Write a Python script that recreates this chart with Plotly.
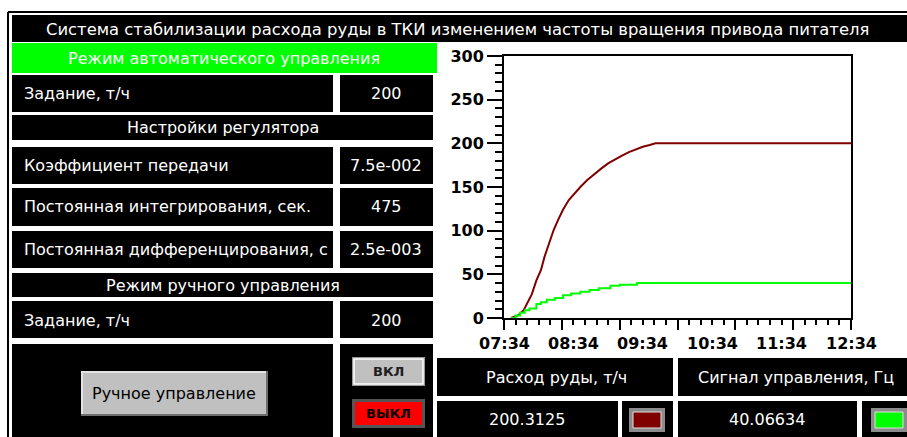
import plotly.graph_objects as go

W, H = 907, 437
FONT = 'DejaVu Sans'
RED = '#800000'
GREEN = '#00ff00'

# trend, minutes after 07:34
ore_t = [6, 12, 17, 21, 24, 28, 32, 35, 38, 40, 43, 47, 51, 56, 61, 66, 72, 78,
         84, 90, 96, 102, 108, 114, 120, 126, 131, 300]
ore_v = [0, 3, 9, 20, 27, 43, 55, 70, 82, 90, 101, 113, 124, 135, 143, 150, 158, 165,
         171, 177, 182, 186, 190, 193, 196, 198, 200, 200]
sig_t = [6, 10, 14, 18, 22, 28, 32, 37, 44, 51, 58, 66, 74, 82, 92, 100, 115, 300]
sig_v = [0, 3, 6, 9, 11, 16, 18, 21, 23, 26, 28, 30, 32, 34, 37, 38, 40, 40]

time_pos = [0, 60, 120, 180, 240, 300]
time_labels = ['07:34', '08:34', '09:34', '10:34', '11:34', '12:34']

title = 'Система стабилизации расхода руды в ТКИ изменением частоты вращения привода питателя'
auto_mode = 'Режим автоматического управления'
manual_mode = 'Режим ручного управления'
tuning = 'Настройки регулятора'
setpoint_label = 'Задание, т/ч'
auto_setpoint = '200'
manual_setpoint = '200'
# last label is cut off by its cell on the panel
param_labels = ['Коэффициент передачи', 'Постоянная интегрирования, сек.',
                'Постоянная дифференцирования, с']
param_values = ['7.5e-002', '475', '2.5e-003']
out_labels = ['Расход руды, т/ч', 'Сигнал управления, Гц']
out_values = ['200.3125', '40.06634']

shapes = []
annotations = []


def fx(x):
    return x / W


def fy(y):
    return 1 - y / H


def box(x0, y0, x1, y1, fill='black', line=None, lw=0):
    shapes.append(dict(type='rect', xref='paper', yref='paper',
                       x0=fx(x0), x1=fx(x1), y0=fy(y1), y1=fy(y0),
                       fillcolor=fill, line=dict(width=lw, color=line or fill),
                       layer='below'))


def text(x, y, s, size=16, color='white', anchor='center', bold=False, family=FONT):
    annotations.append(dict(xref='paper', yref='paper', x=fx(x), y=fy(y), text=s,
                            showarrow=False, xanchor=anchor, yanchor='middle',
                            font=dict(family=family, size=size, color=color,
                                      weight='bold' if bold else 'normal')))


# outer frame
shapes.append(dict(type='line', xref='paper', yref='paper', x0=fx(8), x1=1,
                   y0=fy(12), y1=fy(12), line=dict(color='black', width=2)))
shapes.append(dict(type='line', xref='paper', yref='paper', x0=fx(8), x1=fx(8),
                   y0=0, y1=fy(12), line=dict(color='black', width=2)))

# title bar
box(12, 15, 907, 42)
text(457, 29, title, size=16.4)

# left panel
box(12, 43, 437, 73, fill=GREEN)
text(224, 58, auto_mode)

box(12, 75, 333, 112)
box(340, 75, 433, 112)
text(22, 94, setpoint_label, anchor='left')
text(386, 94, auto_setpoint)

box(12, 115, 433, 140)
text(223, 128, tuning)

rows = [(147, 184), (188, 226), (231, 268)]
for (y0, y1), lab, val in zip(rows, param_labels, param_values):
    box(12, y0, 333, y1)
    box(340, y0, 433, y1)
    text(22, (y0 + y1) / 2, lab, anchor='left')
    text(386, (y0 + y1) / 2, val)

box(12, 273, 433, 297)
text(223, 285, manual_mode)

box(12, 301, 333, 338)
box(340, 301, 433, 338)
text(22, 320, setpoint_label, anchor='left')
text(386, 320, manual_setpoint)

box(12, 344, 333, 437)
box(340, 344, 433, 437)

# manual control button
box(81, 371, 268, 416, fill='#6e6e6e')
box(81, 371, 266, 414, fill='#e4e4e4')
box(83, 373, 266, 414, fill='#c0c0c0')
text(174, 393, 'Ручное управление', color='black')

# on / off buttons
box(352, 357, 425, 386, fill='#9a9a9a')
box(354, 359, 423, 384, fill='#c0c0c0', line='white', lw=1.5)
text(388, 371, 'ВКЛ', size=13, color='#202020', bold=True)
box(352, 399, 425, 428, fill='#555555')
box(355, 402, 422, 425, fill='#ff0000')
text(388, 413, 'ВЫКЛ', size=13, color='black', bold=True)

# bottom right readouts
box(437, 358, 673, 396)
box(678, 358, 907, 396)
text(556, 377, out_labels[0])
text(796, 377, out_labels[1])
box(437, 401, 618, 437)
box(622, 401, 673, 437)
box(678, 401, 857, 437)
box(862, 401, 907, 437)
text(527, 419, out_values[0])
text(767, 419, out_values[1])
for x0, col in [(629, RED), (871, GREEN)]:
    box(x0, 408, x0 + 36, 432, fill='#8c8c8c')
    box(x0 + 4, 412, x0 + 32, 428, fill=col, line='#e0e0e0', lw=1)

tickfont = dict(family=FONT, size=16, color='black', weight='bold')

# hour labels sit on the hour, independent of the 50-minute tick marks
for t, lab in zip(time_pos, time_labels):
    annotations.append(dict(xref='x', yref='paper', x=t, y=fy(343), text=lab,
                            showarrow=False, xanchor='center', yanchor='middle',
                            font=tickfont))

fig = go.Figure()
fig.add_trace(go.Scatter(x=ore_t, y=ore_v, mode='lines', line=dict(color=RED, width=2),
                         name=out_labels[0]))
fig.add_trace(go.Scatter(x=sig_t, y=sig_v, mode='lines', line=dict(color=GREEN, width=2, shape='hv'),
                         name=out_labels[1]))

fig.update_layout(
    width=W, height=H, autosize=False,
    margin=dict(l=0, r=0, t=0, b=0, pad=0),
    paper_bgcolor='white', plot_bgcolor='white',
    showlegend=False, hovermode=False,
    shapes=shapes,
    annotations=annotations,
    xaxis=dict(domain=[fx(504), fx(851)], range=[0, 300], tickmode='linear', tick0=0, dtick=50,
               ticks='outside', ticklen=10, tickwidth=2, tickcolor='black', showticklabels=False,
               minor=dict(dtick=10, ticks='outside', ticklen=5, tickwidth=1.5, tickcolor='black'),
               showline=True, linecolor='black', linewidth=2, mirror=True,
               showgrid=False, zeroline=False, automargin=False),
    yaxis=dict(domain=[fy(318), fy(56)], range=[0, 300], tickmode='linear', tick0=0, dtick=50,
               ticks='outside', ticklen=15, tickwidth=2, tickcolor='black', tickfont=tickfont,
               minor=dict(dtick=10, ticks='outside', ticklen=7, tickwidth=1.5, tickcolor='black'),
               showline=True, linecolor='black', linewidth=2, mirror=True,
               showgrid=False, zeroline=False, automargin=False),
)

fig.write_html('out.html', config={'displayModeBar': False},
               post_script="document.body.style.margin='0';document.body.style.overflow='hidden';")
